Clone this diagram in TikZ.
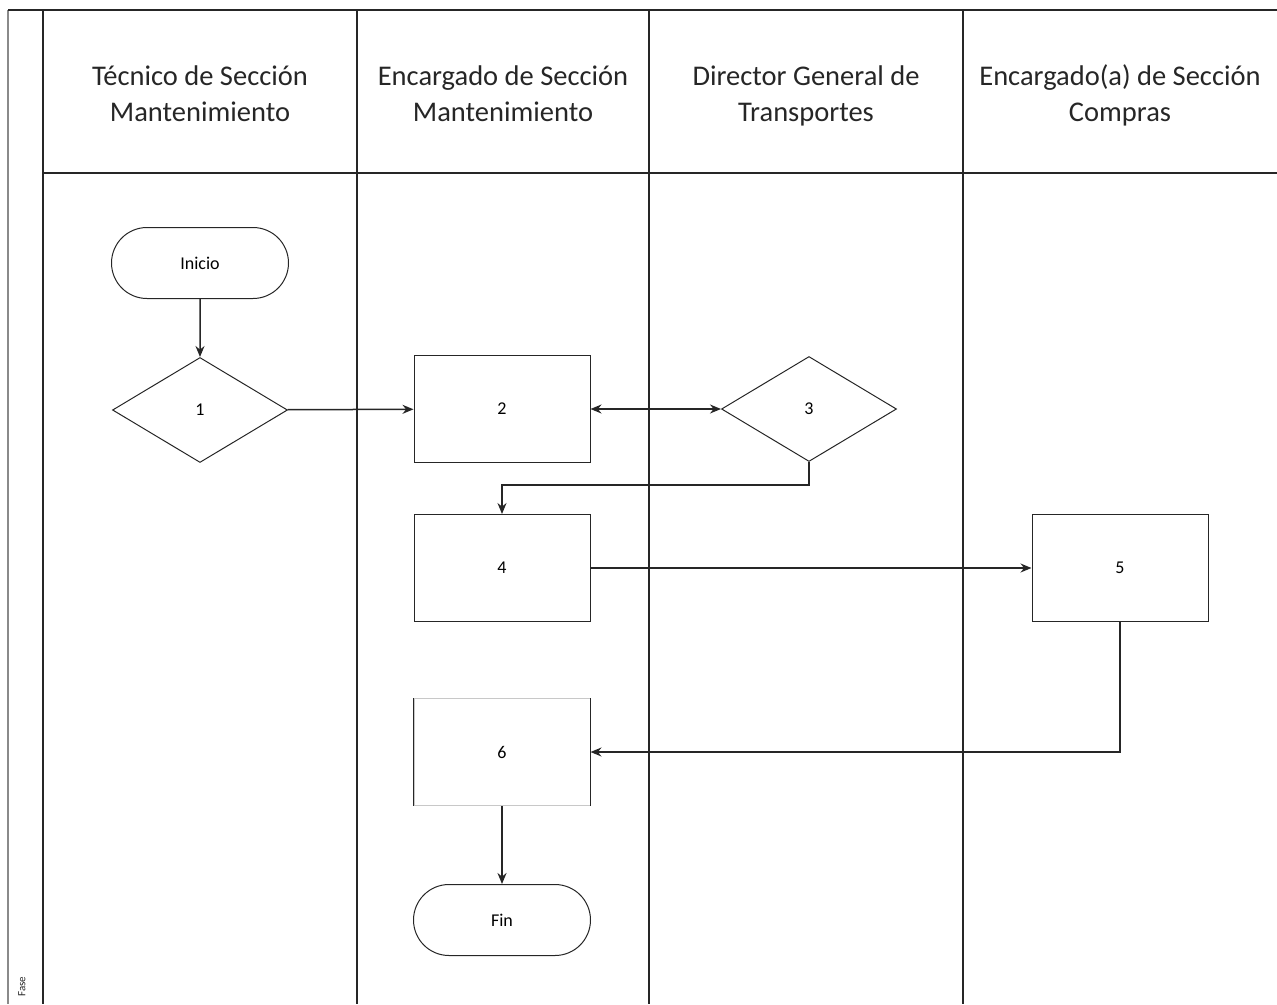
\documentclass[tikz,border=0pt]{standalone}
\usepackage{fontspec}
\setmainfont{Carlito}
\usepackage{tikz}
\usetikzlibrary{
  arrows.meta,
  shapes.geometric,
  shapes.misc,
  positioning,
  calc
}
\definecolor{fcLine}{HTML}{262626}
\definecolor{fcFrame}{HTML}{8A8A8A}
\definecolor{fcFaint}{HTML}{C8C8C8}
\tikzset{
  fcnode/.style={
    draw=fcLine, line width=1pt, minimum width=176pt, minimum height=107pt,
    font=\fontsize{18}{22}\selectfont, align=center, inner sep=0pt
  },
  actbox/.style={fcnode},
  decision/.style={fcnode, diamond, aspect=1.68, minimum width=175pt, minimum height=105pt},
  terminal/.style={fcnode, rounded rectangle, minimum width=177pt, minimum height=71pt},
  lanehead/.style={font=\fontsize{28.5}{36}\selectfont, align=center, text=fcLine},
  laneline/.style={line width=1.6pt, fcLine},
  flow/.style={-{Stealth[length=11pt, width=9pt]}, line width=1.5pt, fcLine},
  biflow/.style={{Stealth[length=11pt, width=9pt]}-{Stealth[length=11pt, width=9pt]}, line width=1.5pt, fcLine}
}
\begin{document}
\begin{tikzpicture}[x=1pt, y=-1pt]
  \useasboundingbox (0,0) rectangle (1277,1004);
  % swimlane frame
  \draw[line width=1.4pt, fcFrame] (8,10) -- (8,1004);
  \draw[laneline] (8,10) -- (1277,10);
  \foreach \lx in {43,357,649,963}
    \draw[laneline] (\lx,10) -- (\lx,1004);
  \draw[laneline] (43,173) -- (1277,173);
  \node[rotate=90, anchor=west, font=\fontsize{11}{12}\selectfont, text=fcLine] (fase) at (22,1000) {Fase};
  % lane headers
  \node[lanehead] (h1) at (200,96) {Técnico de Sección\strut\\Mantenimiento\strut};
  \node[lanehead] (h2) at (503,96) {Encargado de Sección\strut\\Mantenimiento\strut};
  \node[lanehead] (h3) at (806,96) {Director General de\strut\\Transportes\strut};
  \node[lanehead] (h4) at (1120,96) {Encargado(a) de Sección\strut\\Compras\strut};
  % steps
  \node[terminal] (inicio) at (200,263) {Inicio};
  \node[decision] (s1) at (200,410) {1};
  \node[actbox] (s2) at (502,409) {2};
  \node[decision] (s3) at (809,409) {3};
  \node[actbox] (s4) at (502,568) {4};
  \node[actbox] (s5) at (1120,568) {5};
  \node[actbox, draw=fcFaint] (s6) at (502,752) {6};
  \draw[line width=1pt, fcLine] (s6.north west) -- (s6.south west);
  \draw[line width=1pt, fcLine] (s6.north east) -- (s6.south east);
  \node[terminal] (fin) at (502,920) {Fin};
  % connectors
  \draw[flow] (inicio) -- (s1);
  \draw[flow] (s1) -- (s2);
  \draw[biflow] (s2) -- (s3);
  \draw[flow] (s3.south) -- ++(0,23) -| (s4.north);
  \draw[flow] (s4) -- (s5);
  \draw[flow] (s5.south) |- (s6.east);
  \draw[flow, line width=2.2pt] (s6) -- (fin);
\end{tikzpicture}
\end{document}
